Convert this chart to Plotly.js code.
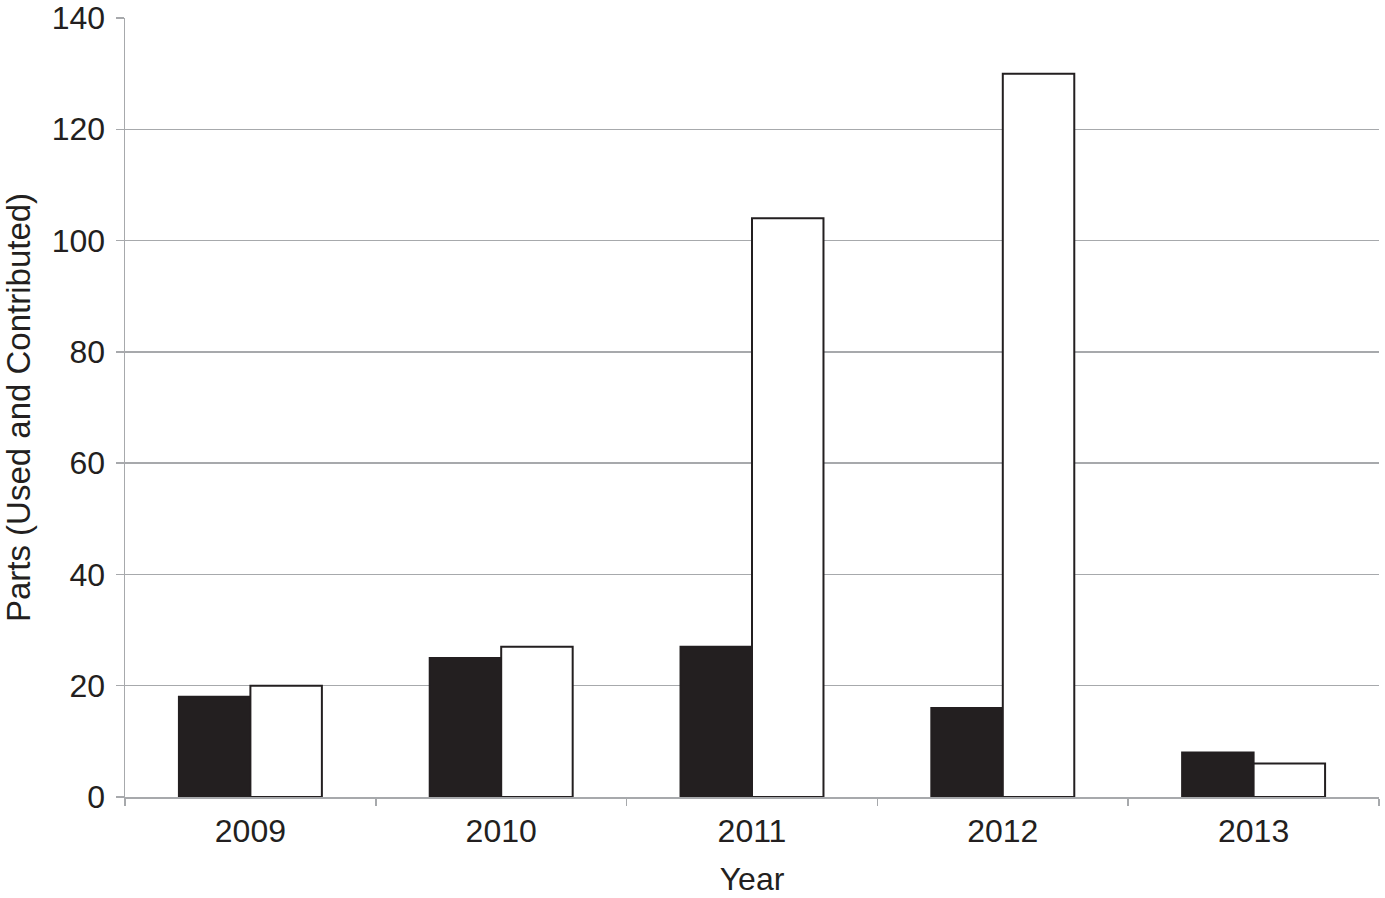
<!DOCTYPE html>
<html>
<head>
<meta charset="utf-8">
<script src="https://cdn.plot.ly/plotly-3.0.1.min.js"></script>
<style>html,body{margin:0;padding:0;background:#fff;}#chart{width:1385px;height:898px;}</style>
</head>
<body>
<div id="chart"></div>
<script>
const years = ['2009', '2010', '2011', '2012', '2013'];
const usedParts = [18, 25, 27, 16, 8];
const contributedParts = [20, 27, 104, 130, 6];
const yTicks = [0, 20, 40, 60, 80, 100, 120, 140];

const fam = 'Liberation Sans, Arial, sans-serif';
const tickFont = {family: fam, color: '#231f20', size: 32};
const xTitleFont = {family: fam, color: '#231f20', size: 32};
const yTitleFont = {family: fam, color: '#231f20', size: 33};

const traces = [
  {type: 'bar', name: 'Used', x: years, y: usedParts,
   marker: {color: '#231f20', line: {color: '#231f20', width: 2}}},
  {type: 'bar', name: 'Contributed', x: years, y: contributedParts,
   marker: {color: '#ffffff', line: {color: '#231f20', width: 2}}}
];

const layout = {
  width: 1385, height: 898,
  margin: {l: 125, r: 6, t: 18, b: 101},
  paper_bgcolor: '#fff', plot_bgcolor: '#fff',
  font: tickFont,
  showlegend: false,
  barmode: 'group',
  bargap: 0.43,
  bargroupgap: 0,
  xaxis: {
    type: 'category',
    tickson: 'boundaries',
    ticks: 'outside', ticklen: 7, tickcolor: '#a7a9ac', tickwidth: 1.5,
    showline: true, linecolor: '#a7a9ac', linewidth: 1.5,
    showgrid: false, zeroline: false,
    ticklabelstandoff: 5,
    tickfont: tickFont,
    title: {text: 'Year', font: xTitleFont, standoff: 19}
  },
  yaxis: {
    range: [0, 140],
    tickvals: yTicks,
    ticks: 'outside', ticklen: 8, tickcolor: '#a7a9ac', tickwidth: 1.5,
    showline: true, linecolor: '#a7a9ac', linewidth: 1.5,
    showgrid: true, gridcolor: '#a7a9ac', gridwidth: 1.5,
    zeroline: false,
    ticklabelstandoff: 4,
    tickfont: tickFont,
    title: {text: 'Parts (Used and Contributed)', font: yTitleFont, standoff: 16}
  }
};

Plotly.newPlot('chart', traces, layout, {displayModeBar: false, staticPlot: true});
</script>
</body>
</html>
